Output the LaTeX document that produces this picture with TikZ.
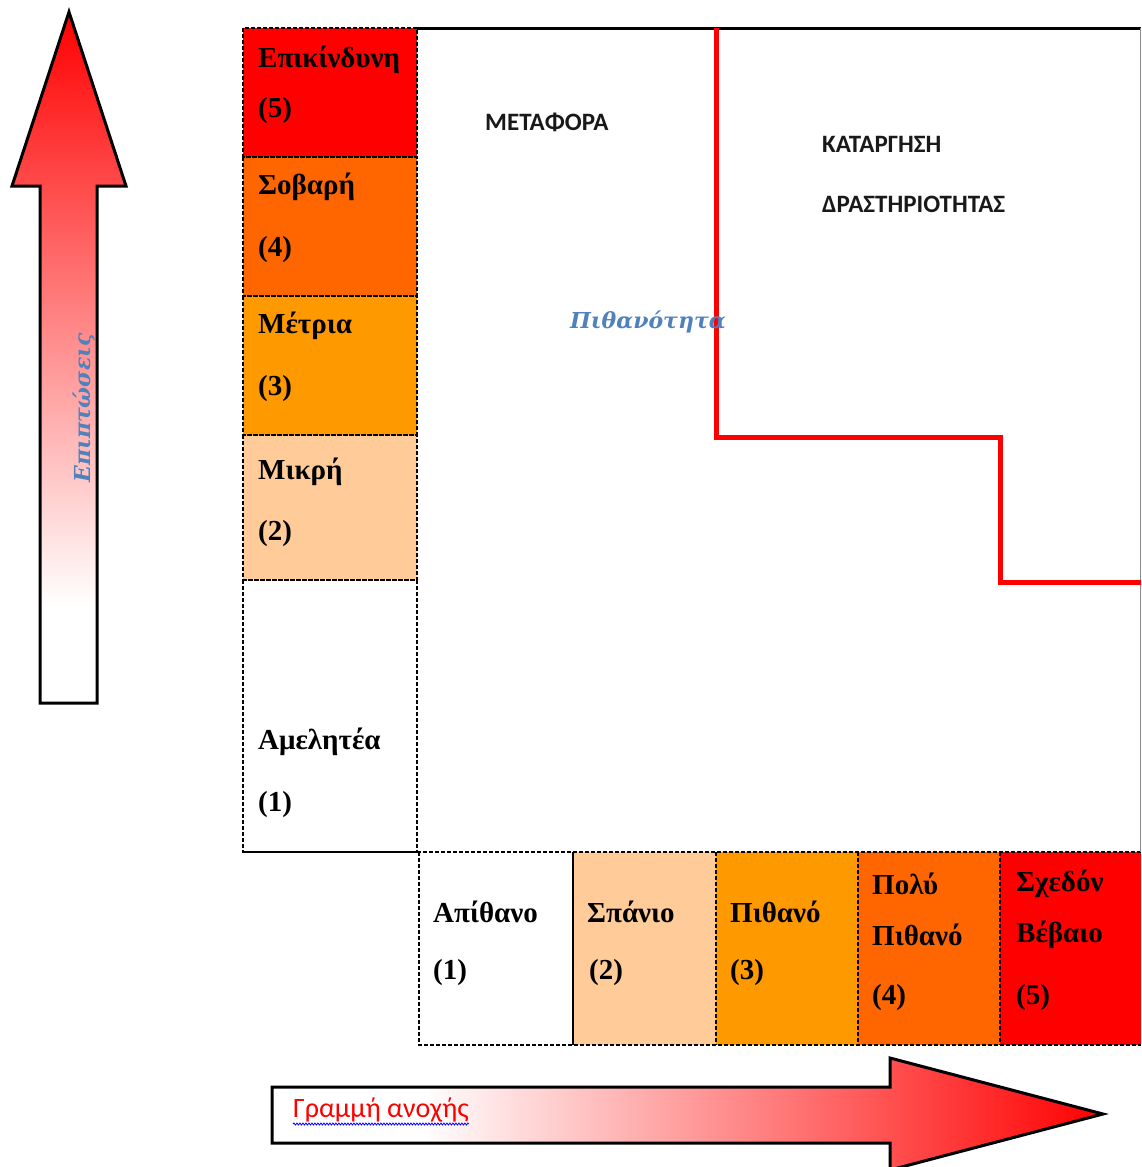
\documentclass[tikz,border=0pt]{standalone}
\usepackage{fontspec}
\setmainfont{Liberation Serif}
\newfontfamily\calibfont{Carlito}
\newfontfamily\cambfont{DejaVu Serif}
\usetikzlibrary{decorations.pathmorphing}
\definecolor{lvRed}{HTML}{FF0000}
\definecolor{lvOrange}{HTML}{FF6600}
\definecolor{lvAmber}{HTML}{FF9900}
\definecolor{lvPeach}{HTML}{FFCC99}
\definecolor{lvBlue}{HTML}{4F81BD}
% the path box is mapped onto 25bp..75bp of a shading
\pgfdeclareverticalshading{vfade}{100bp}{color(0bp)=(white); color(32bp)=(white); color(75bp)=(red); color(100bp)=(red)}
\pgfdeclarehorizontalshading{hfade}{100bp}{color(0bp)=(white); color(34bp)=(white); color(75bp)=(red); color(100bp)=(red)}
\begin{document}
\begin{tikzpicture}[x=1pt,y=-1pt,
  cellline/.style={draw=black, dash pattern=on 4pt off 2pt, line width=1.2pt},
  lbl/.style={anchor=west, inner sep=0pt, font=\fontsize{29}{32}\selectfont\bfseries},
  caps/.style={anchor=west, inner sep=0pt, font=\calibfont\fontsize{25}{28}\selectfont\bfseries, text=black!90},
  bluetxt/.style={inner sep=0pt, text=lvBlue, font=\cambfont\fontsize{22}{26}\selectfont\bfseries\itshape},
  bigarrow/.style={draw=black, line width=3pt, line join=miter}]
\useasboundingbox (0,0) rectangle (1141,1167);
\fill[white] (0,0) rectangle (1141,1167);

% impact column
\fill[lvRed]    (243,28)  rectangle (417,157);
\fill[lvOrange] (243,157) rectangle (417,296);
\fill[lvAmber]  (243,296) rectangle (417,435);
\fill[lvPeach]  (243,435) rectangle (417,580);
\draw[cellline] (243,28) rectangle (417,157);
\draw[cellline] (243,157) rectangle (417,296);
\draw[cellline] (243,296) rectangle (417,435);
\draw[cellline] (243,435) rectangle (417,580);
\draw[cellline] (243,580) rectangle (417,852);

% likelihood row
\fill[lvPeach]  (573,852)  rectangle (716,1045);
\fill[lvAmber]  (716,852)  rectangle (858,1045);
\fill[lvOrange] (858,852)  rectangle (1000,1045);
\fill[lvRed]    (1000,852) rectangle (1141,1045);
\draw[cellline] (243,852) -- (1141,852);
\draw[cellline] (419,852) -- (419,1045) -- (1141,1045);
\draw[cellline] (716,852) -- (716,1045);
\draw[cellline] (858,852) -- (858,1045);
\draw[cellline] (1000,852) -- (1000,1045);
\draw[black, line width=2.5pt] (573,852) -- (573,1045);

% matrix frame
\draw[black, line width=3pt] (417,28) -- (1141,28);
\draw[black!45, line width=1pt] (1140,28) -- (1140,852);

% tolerance line
\draw[lvRed, line width=5pt, line join=miter] (716,28) -- (716,437) -- (1000,437) -- (1000,582) -- (1141,582);

% impact labels
\node[lbl] (i5a) at (258,60)  {Επικίνδυνη};
\node[lbl] (i5b) at (258,111) {(5)};
\node[lbl] (i4a) at (258,187) {Σοβαρή};
\node[lbl] (i4b) at (258,250) {(4)};
\node[lbl] (i3a) at (258,326) {Μέτρια};
\node[lbl] (i3b) at (258,389) {(3)};
\node[lbl] (i2a) at (258,472) {Μικρή};
\node[lbl] (i2b) at (258,534) {(2)};
\node[lbl] (i1a) at (258,742) {Αμελητέα};
\node[lbl] (i1b) at (258,805) {(1)};

% likelihood labels
\node[lbl] (p1a) at (433,912) {Απίθανο};
\node[lbl] (p1b) at (433,973) {(1)};
\node[lbl] (p2a) at (587,912) {Σπάνιο};
\node[lbl] (p2b) at (589,973) {(2)};
\node[lbl] (p3a) at (730,912) {Πιθανό};
\node[lbl] (p3b) at (730,973) {(3)};
\node[lbl] (p4a) at (872,884) {Πολύ};
\node[lbl] (p4b) at (872,935) {Πιθανό};
\node[lbl] (p4c) at (872,998) {(4)};
\node[lbl] (p5a) at (1016,884) {Σχεδόν};
\node[lbl] (p5b) at (1016,935) {Βέβαιο};
\node[lbl] (p5c) at (1016,998) {(5)};

% zone captions
\node[caps] (transfer) at (485,122) {ΜΕΤΑΦΟΡΑ};
\node[caps] (stop1) at (822,144) {ΚΑΤΑΡΓΗΣΗ};
\node[caps] (stop2) at (822,204) {ΔΡΑΣΤΗΡΙΟΤΗΤΑΣ};
\node[bluetxt, anchor=west] (prob) at (570,322) {Πιθανότητα};

% impact arrow
\shade[shading=vfade] (69,12) -- (126,186) -- (97,186) -- (97,703) -- (40,703) -- (40,186) -- (12,186) -- cycle;
\draw[bigarrow] (69,12) -- (126,186) -- (97,186) -- (97,703) -- (40,703) -- (40,186) -- (12,186) -- cycle;
\node[bluetxt, rotate=90, font=\cambfont\fontsize{22}{26}\selectfont\bfseries\itshape] (impact) at (84,408) {Επιπτώσεις};

% tolerance arrow
\shade[shading=hfade] (272,1087) -- (890,1087) -- (890,1058) -- (1103,1114) -- (890,1170) -- (890,1143) -- (272,1143) -- cycle;
\draw[bigarrow] (272,1087) -- (890,1087) -- (890,1058) -- (1103,1114) -- (890,1170) -- (890,1143) -- (272,1143) -- cycle;
\node[anchor=west, inner sep=0pt, text=lvRed, font=\calibfont\fontsize{28}{30}\selectfont] (tol) at (293,1110) {Γραμμή ανοχής};
\draw[blue, line width=0.8pt, decorate, decoration={snake, amplitude=1pt, segment length=3pt}]
  ([yshift=-14pt]tol.west) -- ([yshift=-14pt]tol.east);
\end{tikzpicture}
\end{document}
